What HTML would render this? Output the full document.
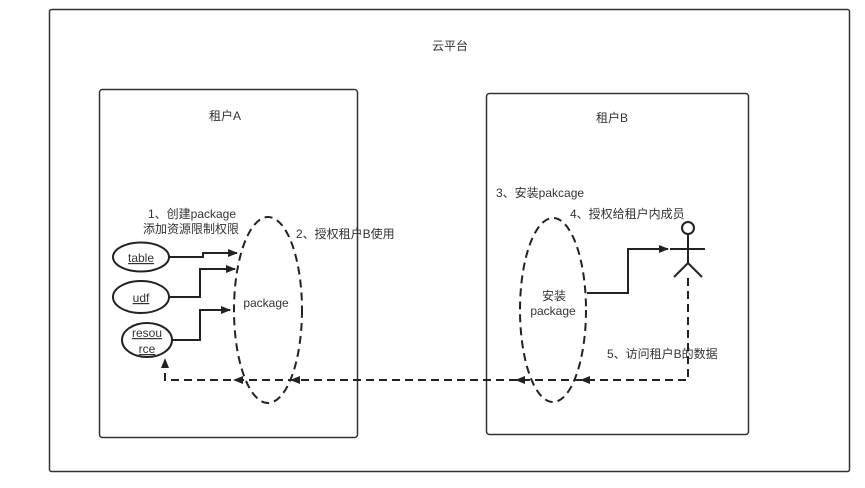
<!DOCTYPE html>
<html><head><meta charset="utf-8"><style>
body{margin:0;background:#fff}
svg{display:block}
text{font-family:"Liberation Sans","Noto Sans CJK SC",sans-serif;font-size:12px;fill:#333}
</style></head><body>
<svg width="865" height="488" viewBox="0 0 865 488">
<defs><marker id="a" markerWidth="10" markerHeight="8" refX="9" refY="4" orient="auto" markerUnits="userSpaceOnUse"><path d="M0,0 L10,4 L0,8 Z" fill="#222"/></marker></defs>
<rect x="49.5" y="9.5" width="800" height="462" rx="2" fill="none" stroke="#333" stroke-width="1.5"/>
<rect x="99.5" y="89.5" width="258" height="348" rx="3" fill="none" stroke="#333" stroke-width="1.5"/>
<rect x="486.5" y="93.5" width="262" height="341" rx="3" fill="none" stroke="#333" stroke-width="1.5"/>
<text x="450" y="50" text-anchor="middle">云平台</text>
<text x="225" y="120" text-anchor="middle">租户A</text>
<text x="612" y="122" text-anchor="middle">租户B</text>
<text x="192" y="218" text-anchor="middle">1、创建package</text>
<text x="191" y="233" text-anchor="middle">添加资源限制权限</text>
<text x="296" y="238">2、授权租户B使用</text>
<text x="496" y="197">3、安装pakcage</text>
<text x="570" y="218">4、授权给租户内成员</text>
<text x="607" y="358">5、访问租户B的数据</text>
<g fill="none" stroke="#222" stroke-width="2">
<ellipse cx="141" cy="257" rx="28" ry="14.5"/>
<ellipse cx="141" cy="297" rx="28" ry="16"/>
<ellipse cx="147" cy="340" rx="25" ry="17"/>
</g>
<g fill="none" stroke="#222" stroke-width="2" stroke-dasharray="8,5">
<ellipse cx="268" cy="310" rx="34" ry="93"/>
<ellipse cx="553" cy="310" rx="33" ry="92"/>
</g>
<text x="141" y="262" text-anchor="middle" text-decoration="underline">table</text>
<text x="141" y="302" text-anchor="middle" text-decoration="underline">udf</text>
<text x="147" y="337" text-anchor="middle" text-decoration="underline">resou</text>
<text x="147" y="353" text-anchor="middle" text-decoration="underline">rce</text>
<text x="266" y="307" text-anchor="middle">package</text>
<text x="554" y="300" text-anchor="middle">安装</text>
<text x="553" y="315" text-anchor="middle">package</text>
<g fill="none" stroke="#222" stroke-width="2">
<polyline points="169,257 203,257 203,253 237,253" marker-end="url(#a)"/>
<polyline points="169,297 200,297 200,269 235,269" marker-end="url(#a)"/>
<polyline points="172,340 200,340 200,310 230,310" marker-end="url(#a)"/>
<polyline points="587,293 628,293 628,249 668,249" marker-end="url(#a)"/>
<circle cx="688" cy="228" r="6"/>
<line x1="688" y1="234" x2="688" y2="263"/>
<line x1="670" y1="249" x2="705" y2="249"/>
<polyline points="674,277 688,263 702,277"/>
</g>
<g fill="none" stroke="#222" stroke-width="2" stroke-dasharray="8,5">
<polyline points="688,278 688,380 165,380 165,362"/>
</g>
<g fill="#222">
<path d="M580,380 l10,-4 v8 z"/>
<path d="M515,380 l10,-4 v8 z"/>
<path d="M290,380 l10,-4 v8 z"/>
<path d="M233,380 l10,-4 v8 z"/>
<path d="M165,358 l-4,10 h8 z"/>
</g>
</svg>
</body></html>
